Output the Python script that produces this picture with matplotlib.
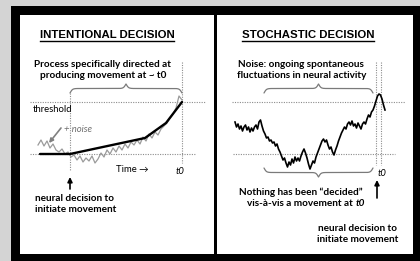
import numpy as np
import matplotlib
matplotlib.use("Agg")
import matplotlib.pyplot as plt
from matplotlib.lines import Line2D

# activity levels (baseline = 0)
BASELINE = 0
THRESHOLD = 52

# left panel: intentional decision, time relative to t0
intent_time = [-142, -112, -37, -16, 0]
intent_level = [0, 0, 16, 31, 52]
decision_time_left = -112

noise_time = list(range(-144, 1, 3))
noise_level = [9, 14, 8, 13, 6, 10, 4, 2, 5, 0,
               2, -3, -1, -6, -2, -8, -4, -7, -2, -9,
               -5, 1, -3, 4, 0, 6, 2, 8, 4, 10,
               6, 12, 9, 14, 10, 17, 13, 20, 16, 22,
               19, 25, 28, 31, 36, 40, 46, 58, 54]

# right panel: stochastic decision
stoch_start, stoch_step = -143, 1.5
stoch_level = [32, 27, 30, 25, 28, 23, 27, 29, 24, 27,
               22, 26, 23, 27, 29, 25, 32, 34, 28, 23,
               20, 16, 17, 13, 14, 11, 12, 8, 10, 5,
               2, -2, -6, -4, -9, -13, -8, -11, -5, -9,
               -3, -7, -4, -7, -2, 2, 5, 1, -4, -10,
               -15, -11, -7, -9, -3, 1, 5, 9, 13, 15,
               12, 14, 9, 5, 7, 2, -1, 4, 8, 13,
               17, 21, 24, 27, 25, 30, 32, 29, 33, 28,
               30, 26, 31, 28, 25, 30, 32, 30, 35, 39,
               37, 42, 44, 48, 53, 58, 60, 59, 55, 49, 44]
stoch_time = stoch_start + stoch_step * np.arange(len(stoch_level))
crossing_times = [-2, 3]

BODY = ['Lato', 'DejaVu Sans']
TITLE = 'Liberation Sans'
DOT = (0, (1, 1.2))
GREY = '#8c8c8c'


def draw_brace(ax, x0, x1, y, h, color='#7a7a7a'):
    u = np.linspace(0, 0.5, 80)
    beta = 90
    half = 1 / (1 + np.exp(-beta * u)) + 1 / (1 + np.exp(-beta * (u - 0.5))) - 0.5
    uu = np.concatenate([u, 1 - u[::-1]])
    yy = np.concatenate([half, half[::-1]])
    ax.plot(x0 + (x1 - x0) * uu, y + h * yy, color=color, lw=0.9, solid_capstyle='round')


def underline(fig, txt, lw=1.0):
    fig.canvas.draw()
    bb = txt.get_window_extent()
    y = bb.y0 - 1.0
    fig.add_artist(Line2D([bb.x0, bb.x1], [y, y], transform=None, color='black', lw=lw))


fig = plt.figure(figsize=(4.2, 2.61), dpi=100)
fig.patch.set_facecolor('#d4d4d4')

W, H = 420, 261
frame = fig.add_axes([11 / W, 0, (W - 11) / W, (H - 6) / H])
frame.set_facecolor('black')
frame.set_xticks([])
frame.set_yticks([])
for s in frame.spines.values():
    s.set_visible(False)

axl = fig.add_axes([20 / W, 7 / H, 194 / W, 239 / H])
axr = fig.add_axes([217 / W, 7 / H, 196 / W, 239 / H])
axl.set_xlim(-162, 32)
axr.set_xlim(-161, 35)
for ax in (axl, axr):
    ax.set_ylim(-100, 139)
    ax.set_facecolor('white')
    ax.set_xticks([])
    ax.set_yticks([])
    for s in ax.spines.values():
        s.set_visible(False)

# ---- left panel ----
t1 = axl.text(-75, 119, 'INTENTIONAL DECISION', family=TITLE, weight='bold',
              fontsize=8.2, ha='center', va='center')
axl.text(-79, 84, 'Process specifically directed at\nproducing movement at ~ t0',
         family=BODY, weight='bold', fontsize=7.2, ha='center', va='center',
         linespacing=1.25)
draw_brace(axl, decision_time_left, 0, 61, 9)
axl.plot([-152, 23], [THRESHOLD, THRESHOLD], color=GREY, lw=0.8, ls=DOT)
axl.plot([-152, 14], [BASELINE, BASELINE], color=GREY, lw=0.8, ls=DOT)
axl.plot([decision_time_left] * 2, [61, -16], color=GREY, lw=0.8, ls=DOT)
axl.plot([0, 0], [92, -9], color=GREY, lw=0.8, ls=DOT)
axl.plot(noise_time, noise_level, color='#9a9a9a', lw=0.9)
axl.plot(intent_time, intent_level, color='black', lw=1.7, solid_capstyle='round')
axl.text(-149, 45, 'threshold', family=BODY, fontsize=6.8, ha='left', va='center')
axl.text(-118, 25, '+ noise', family=BODY, style='italic', fontsize=6.8,
         color='#707070', ha='left', va='center')
axl.annotate('', xy=(-133, 11), xytext=(-121, 26),
             arrowprops=dict(arrowstyle='-|>', color='#808080', lw=1.2,
                             mutation_scale=6, shrinkA=0, shrinkB=0))
axl.text(-66, -16, 'Time →', family=BODY, fontsize=6.8, ha='left', va='center')
axl.text(-2, -17, 't0', family=BODY, style='italic', fontsize=6.8, ha='center', va='center')
axl.annotate('', xy=(decision_time_left, -23), xytext=(decision_time_left, -35),
             arrowprops=dict(arrowstyle='-|>', color='black', lw=1.2,
                             mutation_scale=7, shrinkA=0, shrinkB=0))
axl.text(-147, -50, 'neural decision to\ninitiate movement', family=BODY,
         weight='bold', fontsize=7.2, ha='left', va='center', linespacing=1.3)

# ---- right panel ----
t2 = axr.text(-70, 119, 'STOCHASTIC DECISION', family=TITLE, weight='bold',
              fontsize=8.2, ha='center', va='center')
axr.text(-12, 84, 'Noise: ongoing spontaneous\nfluctuations in neural activity',
         family=BODY, weight='bold', fontsize=7.2, ha='right', va='center',
         multialignment='center', linespacing=1.25)
draw_brace(axr, -114, -5, 61, 9)
axr.plot([-146, 27], [THRESHOLD, THRESHOLD], color=GREY, lw=0.8, ls=DOT)
axr.plot([-145, 17], [BASELINE, BASELINE], color=GREY, lw=0.8, ls=DOT)
for ct in crossing_times:
    axr.plot([ct, ct], [92, -11], color=GREY, lw=0.8, ls=DOT)
axr.plot(stoch_time, stoch_level, color='black', lw=1.2)
draw_brace(axr, -114, -5, -14, -9)
axr.text(4, -19, 't0', family=BODY, style='italic', fontsize=6.8, ha='center', va='center')
axr.text(-15, -38, 'Nothing has been \u201cdecided\u201d', family=BODY, weight='bold',
         fontsize=7.2, ha='right', va='center')
line2 = axr.text(-131, -49, 'vis-\u00e0-vis a movement at ', family=BODY, weight='bold',
                 fontsize=7.2, ha='left', va='center')
axr.annotate('t0', xy=(1, 0), xycoords=line2, family=BODY, weight='bold',
             style='italic', fontsize=7.2, ha='left', va='bottom')
axr.annotate('', xy=(-1, -26), xytext=(-1, -44),
             arrowprops=dict(arrowstyle='-|>', color='black', lw=1.2,
                             mutation_scale=7, shrinkA=0, shrinkB=0))
axr.text(-20, -80, 'neural decision to\ninitiate movement', family=BODY,
         weight='bold', fontsize=7.2, ha='center', va='center', linespacing=1.3)

underline(fig, t1)
underline(fig, t2)

fig.savefig('out.png', dpi=100, facecolor=fig.get_facecolor())
